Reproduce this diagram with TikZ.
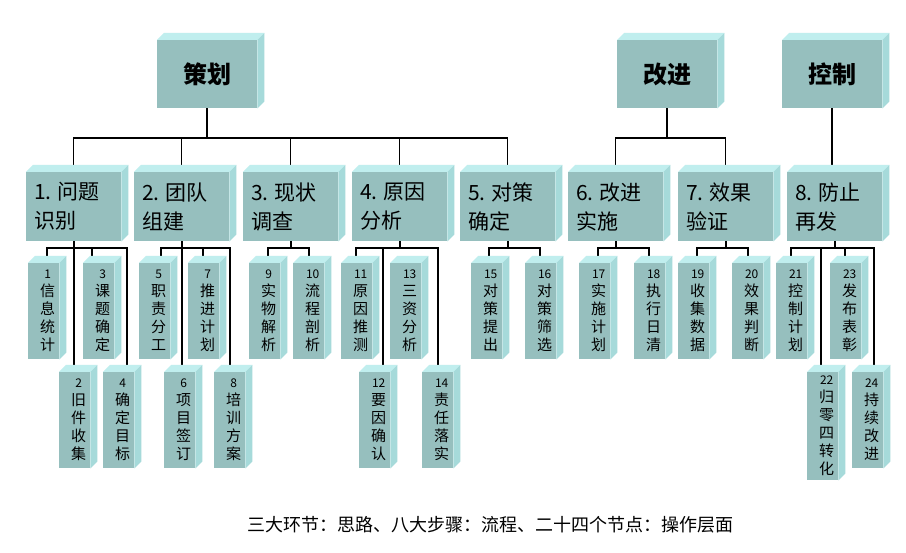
\documentclass[tikz,border=0pt]{standalone}
\usepackage{fontspec}
\setmainfont{Noto Sans CJK SC}
\usetikzlibrary{calc}
\definecolor{frontc}{HTML}{96BFBE}
\definecolor{topc}{HTML}{C0EEEE}
\definecolor{sidec}{HTML}{A6DADA}
\pgfdeclarelayer{bg}
\pgfsetlayers{bg,main}
\tikzset{
  bigbox/.style={fill=frontc, inner sep=0pt, minimum width=100pt, minimum height=68pt, font=\fontsize{24}{28}\selectfont\bfseries},
  midbox/.style={fill=frontc, inner xsep=8pt, inner ysep=0pt, text width=79pt, minimum height=69pt, align=left, font=\fontsize{21}{29}\selectfont},
  smallbox/.style={fill=frontc, inner sep=0pt, minimum width=31pt, minimum height=96pt, font=\fontsize{15}{18}\selectfont},
  conn/.style={draw=black, line width=1.8pt},
  caption/.style={font=\fontsize{18}{22}\selectfont, inner sep=0pt, anchor=west}
}
\newcommand\mkcube[6]{%
  \node[#4, anchor=north west] (#1) at (#2,#3) {#5};
  \fill[topc] (#1.north west) -- ++(7,-7) -- ([shift={(7,-7)}]#1.north east) -- (#1.north east) -- cycle;
  \fill[sidec] (#1.north east) -- ++(7,-7) -- ([shift={(7,-7)}]#1.south east) -- (#1.south east) -- cycle;
  \coordinate (#1t) at ([shift={(#6,-7)}]#1.north west);
}
\newcommand\vt[2]{\hspace*{8pt}\begin{tabular}{@{}c@{}}{\fontsize{12}{18}\selectfont #1}\\#2\end{tabular}}
\newcommand\hd[3]{#1.\kern6pt#2\\#3}
\begin{document}
\begin{tikzpicture}[x=1pt,y=-1pt]
\begin{pgfonlayer}{bg}
\path[fill=white,use as bounding box] (0,0) rectangle (906,553);
\end{pgfonlayer}
% top level
\mkcube{P}{157}{40}{bigbox}{策划}{50}
\mkcube{I}{617}{40}{bigbox}{改进}{50}
\mkcube{C}{782}{40}{bigbox}{控制}{50}
% level 2
\mkcube{L1}{26}{172}{midbox}{\hd{1}{问题}{识别}}{47.5}
\mkcube{L2}{134}{172}{midbox}{\hd{2}{团队}{组建}}{47.5}
\mkcube{L3}{243}{172}{midbox}{\hd{3}{现状}{调查}}{47.5}
\mkcube{L4}{352}{172}{midbox}{\hd{4}{原因}{分析}}{47.5}
\mkcube{L5}{460}{172}{midbox}{\hd{5}{对策}{确定}}{47.5}
\mkcube{L6}{568}{172}{midbox}{\hd{6}{改进}{实施}}{47.5}
\mkcube{L7}{678}{172}{midbox}{\hd{7}{效果}{验证}}{47.5}
\mkcube{L8}{787}{172}{midbox}{\hd{8}{防止}{再发}}{47.5}
% level 3
\mkcube{c1}{28}{263}{smallbox}{\vt{1}{信\\息\\统\\计}}{19}
\mkcube{c3}{83}{263}{smallbox}{\vt{3}{课\\题\\确\\定}}{9}
\mkcube{c2}{59}{372}{smallbox}{\vt{2}{旧\\件\\收\\集}}{13}
\mkcube{c4}{103}{372}{smallbox}{\vt{4}{确\\定\\目\\标}}{24}
\mkcube{c5}{139}{263}{smallbox}{\vt{5}{职\\责\\分\\工}}{22}
\mkcube{c7}{188}{263}{smallbox}{\vt{7}{推\\进\\计\\划}}{15}
\mkcube{c6}{164}{372}{smallbox}{\vt{6}{项\\目\\签\\订}}{18}
\mkcube{c8}{214}{372}{smallbox}{\vt{8}{培\\训\\方\\案}}{16}
\mkcube{c9}{249}{263}{smallbox}{\vt{9}{实\\物\\解\\析}}{19}
\mkcube{c10}{293}{263}{smallbox}{\vt{10}{流\\程\\剖\\析}}{16}
\mkcube{c11}{341}{263}{smallbox}{\vt{11}{原\\因\\推\\测}}{15}
\mkcube{c13}{390}{263}{smallbox}{\vt{13}{三\\资\\分\\析}}{16}
\mkcube{c12}{359}{372}{smallbox}{\vt{12}{要\\因\\确\\认}}{24}
\mkcube{c14}{422}{372}{smallbox}{\vt{14}{责\\任\\落\\实}}{16}
\mkcube{c15}{471}{263}{smallbox}{\vt{15}{对\\策\\提\\出}}{18}
\mkcube{c16}{525}{263}{smallbox}{\vt{16}{对\\策\\筛\\选}}{15}
\mkcube{c17}{579}{263}{smallbox}{\vt{17}{实\\施\\计\\划}}{19}
\mkcube{c18}{634}{263}{smallbox}{\vt{18}{执\\行\\日\\清}}{15}
\mkcube{c19}{678}{263}{smallbox}{\vt{19}{收\\集\\数\\据}}{19}
\mkcube{c20}{732}{263}{smallbox}{\vt{20}{效\\果\\判\\断}}{16}
\mkcube{c21}{776}{263}{smallbox}{\vt{21}{控\\制\\计\\划}}{15}
\mkcube{c23}{830}{263}{smallbox}{\vt{23}{发\\布\\表\\彰}}{15}
\mkcube{c22}{807}{372}{smallbox}{\vt{22}{归\\零\\四\\转\\化}}{14}
\mkcube{c24}{852}{372}{smallbox}{\vt{24}{持\\续\\改\\进}}{22}
% caption
\node[caption] (cap) at (247,525) {三大环节：思路、八大步骤：流程、二十四个节点：操作层面};
% connectors
\coordinate (tb) at (0,138);
\coordinate (bar) at (0,248);
\begin{pgfonlayer}{bg}
\draw[conn] (L1t) |- (L5t |- tb) -- (L5t);
\draw[conn] (L2t) -- (L2t |- tb);
\draw[conn] (L3t) -- (L3t |- tb);
\draw[conn] (L4t) -- (L4t |- tb);
\draw[conn] (P.south) -- (P.south |- tb);
\draw[conn] (L6t) |- (L7t |- tb) -- (L7t);
\draw[conn] (I.south) -- (I.south |- tb);
\draw[conn] (C.south) -- (C.south |- L8t);
% group 1
\draw[conn] (c1t) |- (c4t |- bar) -- (c4t);
\draw[conn] (c3t) -- (c3t |- bar);
\draw[conn] (L1.south) -- (L1.south |- c2t);
% group 2
\draw[conn] (c5t) |- (c8t |- bar) -- (c8t);
\draw[conn] (c7t) -- (c7t |- bar);
\draw[conn] (L2.south) -- (L2.south |- c6t);
% group 3
\draw[conn] (c9t) |- (c10t |- bar) -- (c10t);
\draw[conn] (L3.south) -- (L3.south |- bar);
% group 4
\draw[conn] (c11t) |- (c14t |- bar) -- (c14t);
\draw[conn] (c12t |- bar) -- (c12t);
\draw[conn] (L4.south) -- (L4.south |- bar);
% group 5
\draw[conn] (c15t) |- (c16t |- bar) -- (c16t);
\draw[conn] (L5.south) -- (L5.south |- bar);
% group 6
\draw[conn] (c17t) |- (c18t |- bar) -- (c18t);
\draw[conn] (L6.south) -- (L6.south |- bar);
% group 7
\draw[conn] (c19t) |- (c20t |- bar) -- (c20t);
\draw[conn] (L7.south) -- (L7.south |- bar);
% group 8
\draw[conn] (c21t) |- (c24t |- bar) -- (c24t);
\draw[conn] (c23t) -- (c23t |- bar);
\draw[conn] (c22t |- bar) -- (c22t);
\draw[conn] (L8.south) -- (L8.south |- bar);
\end{pgfonlayer}
\end{tikzpicture}
\end{document}
